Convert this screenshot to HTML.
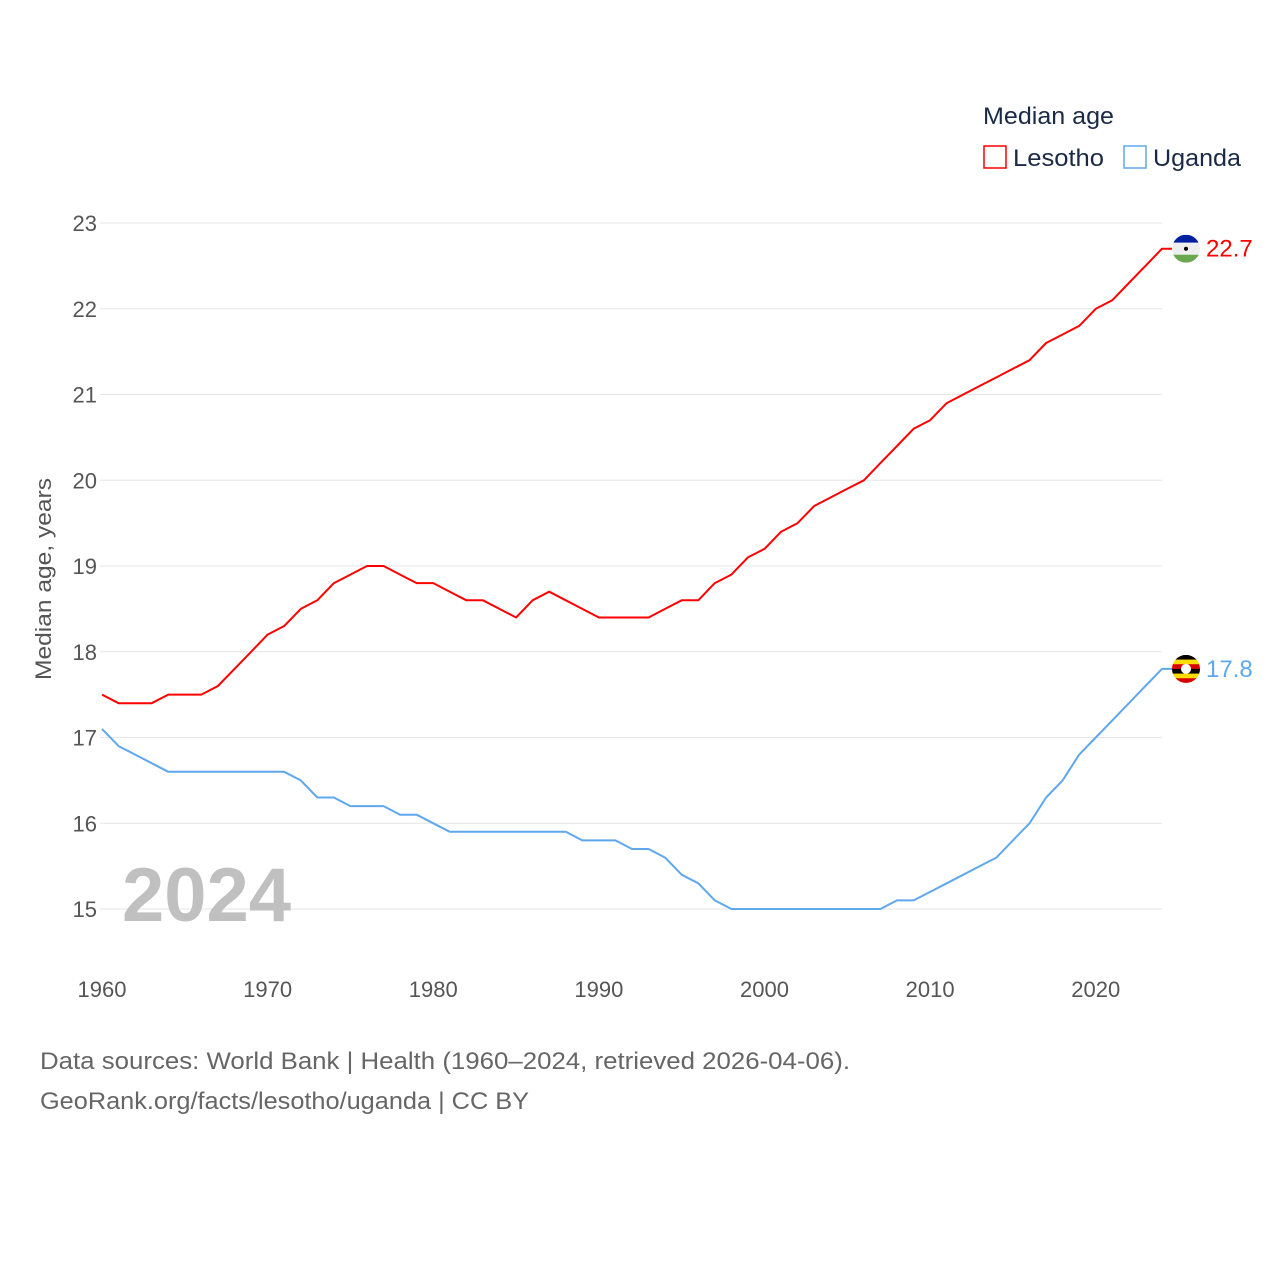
<!DOCTYPE html>
<html><head><meta charset="utf-8"><style>
body{margin:0;background:#fff;font-family:"Liberation Sans",sans-serif;}
svg text{font-family:"Liberation Sans",sans-serif;}
</style></head><body>
<svg width="1280" height="1280" viewBox="0 0 1280 1280">
<g id="grid"></g>
<g id="yticks"></g>
<g id="xticks"></g>
<text x="51" y="579" transform="rotate(-90 51 579)" text-anchor="middle" font-size="22" fill="#555" textLength="202" lengthAdjust="spacingAndGlyphs">Median age, years</text>
<text x="122" y="921" font-size="76" font-weight="bold" fill="#c0c0c0">2024</text>
<g id="series"></g>
<g>
<text x="983" y="124" font-size="24" fill="#1a2a44" textLength="131" lengthAdjust="spacingAndGlyphs">Median age</text>
<g><rect x="984" y="146" width="22" height="22" fill="none" stroke="#ff0000" stroke-width="1.5"/><text x="1013" y="166" font-size="24" fill="#1a2a44" textLength="91" lengthAdjust="spacingAndGlyphs">Lesotho</text></g>
<g><rect x="1124" y="146" width="22" height="22" fill="none" stroke="#5fa8ee" stroke-width="1.5"/><text x="1153" y="166" font-size="24" fill="#1a2a44" textLength="88" lengthAdjust="spacingAndGlyphs">Uganda</text></g>
</g>
<text x="40" y="1069" font-size="24" fill="#666" textLength="810" lengthAdjust="spacingAndGlyphs">Data sources: World Bank | Health (1960–2024, retrieved 2026-04-06).</text>
<text x="40" y="1109" font-size="24" fill="#666" textLength="489" lengthAdjust="spacingAndGlyphs">GeoRank.org/facts/lesotho/uganda | CC BY</text>
</svg>
<script>
const years=[];for(let y=1960;y<=2024;y++)years.push(y);
const lesotho=[17.5,17.4,17.4,17.4,17.5,17.5,17.5,17.6,17.8,18.0,18.2,18.3,18.5,18.6,18.8,18.9,19.0,19.0,18.9,18.8,18.8,18.7,18.6,18.6,18.5,18.4,18.6,18.7,18.6,18.5,18.4,18.4,18.4,18.4,18.5,18.6,18.6,18.8,18.9,19.1,19.2,19.4,19.5,19.7,19.8,19.9,20.0,20.2,20.4,20.6,20.7,20.9,21.0,21.1,21.2,21.3,21.4,21.6,21.7,21.8,22.0,22.1,22.3,22.5,22.7];
const uganda=[17.1,16.9,16.8,16.7,16.6,16.6,16.6,16.6,16.6,16.6,16.6,16.6,16.5,16.3,16.3,16.2,16.2,16.2,16.1,16.1,16.0,15.9,15.9,15.9,15.9,15.9,15.9,15.9,15.9,15.8,15.8,15.8,15.7,15.7,15.6,15.4,15.3,15.1,15.0,15.0,15.0,15.0,15.0,15.0,15.0,15.0,15.0,15.0,15.1,15.1,15.2,15.3,15.4,15.5,15.6,15.8,16.0,16.3,16.5,16.8,17.0,17.2,17.4,17.6,17.8];
const yTicks=[15,16,17,18,19,20,21,22,23];
const xTicks=[1960,1970,1980,1990,2000,2010,2020];
const X=v=>102+(v-1960)*(1060/64);
const Y=v=>909-(v-15)*85.75;
const NS="http://www.w3.org/2000/svg";
function mk(tag,attrs,parent){const e=document.createElementNS(NS,tag);for(const k in attrs)e.setAttribute(k,attrs[k]);parent.appendChild(e);return e;}
const grid=document.getElementById('grid'),yt=document.getElementById('yticks'),xt=document.getElementById('xticks'),ser=document.getElementById('series');
yTicks.forEach(t=>{
 const l=mk('line',{x1:100,x2:1162,y1:Y(t),y2:Y(t),stroke:'#e6e6e6','stroke-width':1},grid);
 
 
 const tx=mk('text',{x:97,y:Y(t)+8,'text-anchor':'end','font-size':22,fill:'#555'},yt);tx.textContent=t;
 
 
});
xTicks.forEach(t=>{
 const tx=mk('text',{x:X(t),y:997,'text-anchor':'middle','font-size':22,fill:'#555'},xt);tx.textContent=t;
 
 
});
function line(data,color,name){
 let d=data.map((v,i)=>(i?'L':'M')+X(years[i]).toFixed(1)+' '+Y(v).toFixed(1)).join(' ');
 const last=data[data.length-1];
 d+=' L'+(X(2024)+10)+' '+Y(last).toFixed(1);
 const p=mk('path',{d:d,fill:'none',stroke:color,'stroke-width':2,'stroke-linejoin':'round'},ser);
 
 
 const t=mk('text',{x:1206,y:Y(last)+8,'font-size':24,fill:color},ser);t.textContent=last.toFixed(1);
 
 
 return Y(last);
}
const yl=line(lesotho,'#ff0000','lesotho');
const yu=line(uganda,'#5fa8ee','uganda');
const fl=mk('g',{},ser);


mk('clipPath',{id:'cl'},fl);mk('circle',{cx:1186,cy:yl,r:14},fl.lastChild);
const gl=mk('g',{'clip-path':'url(#cl)'},fl);
mk('rect',{x:1172,y:yl-14,width:28,height:8,fill:'#00209f'},gl);
mk('rect',{x:1172,y:yl-6,width:28,height:12,fill:'#eee'},gl);
mk('rect',{x:1172,y:yl+6,width:28,height:8,fill:'#6aa84f'},gl);
mk('circle',{cx:1186,cy:yl,r:2,fill:'#000'},gl);
const fu=mk('g',{},ser);


mk('clipPath',{id:'cu'},fu);mk('circle',{cx:1186,cy:yu,r:14},fu.lastChild);
const gu=mk('g',{'clip-path':'url(#cu)'},fu);
['#000','#fcdc04','#d90000','#000','#fcdc04','#d90000'].forEach((c,i)=>mk('rect',{x:1172,y:yu-14+i*28/6,width:28,height:28/6+0.5,fill:c},gu));
mk('circle',{cx:1186,cy:yu,r:5,fill:'#fff'},gu);
</script>
</body></html>
